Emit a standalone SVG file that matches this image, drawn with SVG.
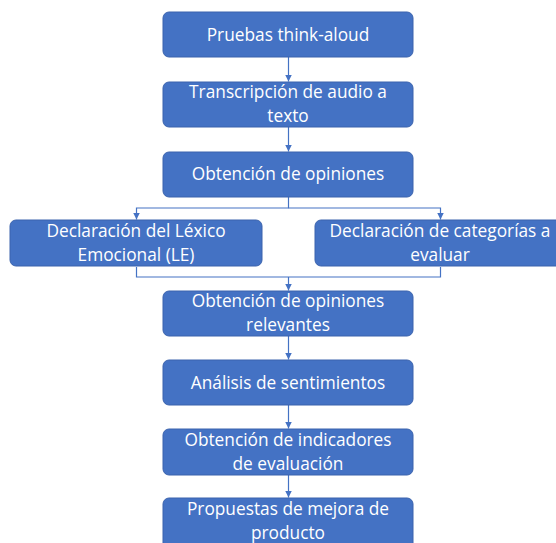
<svg xmlns="http://www.w3.org/2000/svg" width="556" height="543" viewBox="0 0 556 543">
<defs>
<marker id="arr" viewBox="0 0 10 10" refX="10" refY="5" markerWidth="7" markerHeight="7" markerUnits="userSpaceOnUse" orient="auto">
<path d="M0,0 L10,5 L0,10 z" fill="#4472C4"/>
</marker>
<style>
.box{fill:#4472C4;stroke:#3B63AD;stroke-width:1}
.t{fill:#FFFFFF;font-family:"Open Sans","Liberation Sans",sans-serif;font-size:17.3px;text-anchor:middle}
.c{fill:none;stroke:#4472C4;stroke-width:1.2}
</style>
</defs>
<rect width="556" height="543" fill="#FFFFFF"/>
<g id="connectors">
<path class="c" d="M288.5,57 V81.5" marker-end="url(#arr)"/>
<path class="c" d="M288.5,127 V151.5" marker-end="url(#arr)"/>
<path class="c" d="M288.5,197 V208 H136.5 V219.5" marker-end="url(#arr)"/>
<path class="c" d="M288.5,208 H440.5 V219.5" marker-end="url(#arr)"/>
<path class="c" d="M136.5,267 V277 H440.5 V267"/>
<path class="c" d="M288.5,277 V290.5" marker-end="url(#arr)"/>
<path class="c" d="M288.5,336 V359.5" marker-end="url(#arr)"/>
<path class="c" d="M288.5,405 V428.5" marker-end="url(#arr)"/>
<path class="c" d="M288.5,475 V497.5" marker-end="url(#arr)"/>
</g>
<g id="n1"><rect class="box" x="163" y="12" width="250" height="45" rx="6"/><text class="t" x="288" y="41">Pruebas think-aloud</text></g>
<g id="n2"><rect class="box" x="163" y="82" width="250" height="45" rx="6"/><text class="t" x="288" y="98">Transcripción de audio a</text><text class="t" x="288" y="122">texto</text></g>
<g id="n3"><rect class="box" x="163" y="152" width="250" height="45" rx="6"/><text class="t" x="288" y="180">Obtención de opiniones</text></g>
<g id="n4"><rect class="box" x="10" y="220" width="252" height="46" rx="6"/><text class="t" x="136" y="237">Declaración del Léxico</text><text class="t" x="136" y="261">Emocional (LE)</text></g>
<g id="n5"><rect class="box" x="315" y="220" width="250" height="46" rx="6"/><text class="t" x="440" y="237">Declaración de categorías a</text><text class="t" x="440" y="261">evaluar</text></g>
<g id="n6"><rect class="box" x="163" y="291" width="250" height="45" rx="6"/><text class="t" x="288" y="307">Obtención de opiniones</text><text class="t" x="288" y="331">relevantes</text></g>
<g id="n7"><rect class="box" x="163" y="360" width="250" height="45" rx="6"/><text class="t" x="288" y="389">Análisis de sentimientos</text></g>
<g id="n8"><rect class="box" x="163" y="429" width="250" height="46" rx="6"/><text class="t" x="288" y="446">Obtención de indicadores</text><text class="t" x="288" y="470">de evaluación</text></g>
<g id="n9"><rect class="box" x="163" y="498" width="250" height="52" rx="6"/><text class="t" x="288" y="515">Propuestas de mejora de</text><text class="t" x="288" y="539">producto</text></g>
</svg>
